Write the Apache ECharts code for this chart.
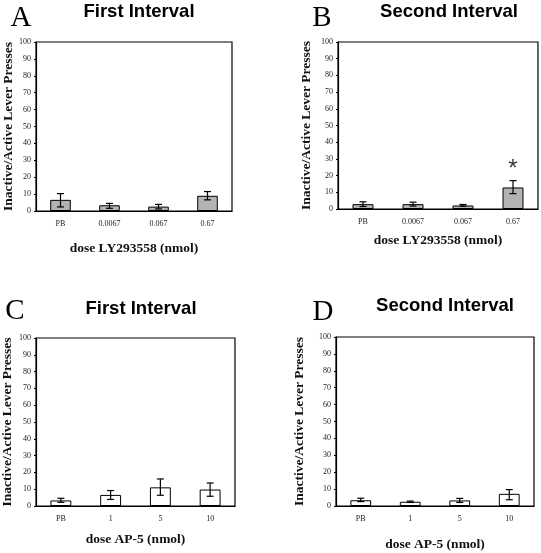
<!DOCTYPE html>
<html><head><meta charset="utf-8">
<script src="https://cdn.jsdelivr.net/npm/echarts@6/dist/echarts.min.js"></script>
<style>html,body{margin:0;padding:0;background:#fff}#c{width:541px;height:553px}</style>
</head><body><div id="c"></div>
<script>
// ---- data ----
var catsLY = ['PB', '0.0067', '0.067', '0.67'];
var catsAP = ['PB', '1', '5', '10'];
var yTicks = [0, 10, 20, 30, 40, 50, 60, 70, 80, 90, 100];

var meanA = [6.6, 3.4, 2.6, 9.0];
var lowA  = [2.4, 1.6, 1.2, 6.6];
var highA = [10.3, 4.5, 3.9, 11.5];

var meanB = [2.9, 2.9, 2.1, 12.9];
var lowB  = [1.5, 1.8, 1.7, 9.2];
var highB = [4.3, 4.1, 2.7, 17.0];
var starB = [null, null, null, 24];

var meanC = [3.3, 6.6, 11.1, 9.8];
var lowC  = [2.2, 3.9, 6.4, 5.8];
var highC = [4.6, 9.2, 16.1, 13.7];

var meanD = [3.4, 2.5, 3.3, 7.2];
var lowD  = [2.6, 2.1, 2.1, 3.7];
var highD = [4.6, 2.9, 4.5, 9.7];

var titles = ['First Interval', 'Second Interval', 'First Interval', 'Second Interval'];
var letters = ['A', 'B', 'C', 'D'];
var yName = 'Inactive/Active Lever Presses';
var xNames = ['dose LY293558 (nmol)', 'dose LY293558 (nmol)', 'dose AP-5 (nmol)', 'dose AP-5 (nmol)'];

// ---- layout ----
var grids = [
  {left: 36, top: 42, width: 196, height: 169},
  {left: 338, top: 42, width: 200, height: 167},
  {left: 36, top: 338, width: 199, height: 168},
  {left: 336, top: 337, width: 198, height: 172}
];
var yGaps = [20, 24, 21, 29];
var xGaps = [31, 25, 27, 32];
var titlePos = [[139, 12], [449, 12], [141, 309], [445, 306]];
var letterPos = [[21, 18], [322, 18], [15, 311], [323, 312]];
var panels = [
  {cats: catsLY, mean: meanA, low: lowA, high: highA, fill: '#b3b3b3'},
  {cats: catsLY, mean: meanB, low: lowB, high: highB, fill: '#b3b3b3'},
  {cats: catsAP, mean: meanC, low: lowC, high: highC, fill: '#ffffff'},
  {cats: catsAP, mean: meanD, low: lowD, high: highD, fill: '#ffffff'}
];

var serif = '"Liberation Serif", "DejaVu Serif", serif';
var sans = '"Liberation Sans", Arial, sans-serif';

var option = {
  animation: false,
  backgroundColor: '#fff',
  grid: grids.map(function (g) {
    return {left: g.left, top: g.top, width: g.width, height: g.height, show: true,
      borderColor: '#000', borderWidth: 1.2, backgroundColor: 'transparent', containLabel: false};
  }),
  xAxis: panels.map(function (p, i) {
    return {type: 'category', gridIndex: i, data: p.cats,
      name: xNames[i], nameLocation: 'middle', nameGap: xGaps[i],
      nameTextStyle: {fontFamily: serif, fontWeight: 'bold', fontSize: 13.5, color: '#111'},
      axisLine: {lineStyle: {color: '#000', width: 1.2}},
      axisTick: {show: false},
      axisLabel: {fontFamily: serif, fontSize: 8, color: '#222', margin: 9}};
  }),
  yAxis: panels.map(function (p, i) {
    return {type: 'value', gridIndex: i, min: yTicks[0], max: yTicks[yTicks.length - 1], interval: yTicks[1] - yTicks[0],
      name: yName, nameLocation: 'middle', nameGap: yGaps[i],
      nameTextStyle: {fontFamily: serif, fontWeight: 'bold', fontSize: 13.5, color: '#111'},
      splitLine: {show: false},
      axisLine: {show: true, lineStyle: {color: '#000', width: 1.2}},
      axisTick: {show: true, length: 2, lineStyle: {color: '#000'}},
      axisLabel: {fontFamily: serif, fontSize: 8, color: '#222', margin: 5}};
  }),
  graphic: [],
  series: []
};

panels.forEach(function (p, i) {
  option.series.push({type: 'bar', xAxisIndex: i, yAxisIndex: i, data: p.mean,
    barWidth: '42%', itemStyle: {color: p.fill, borderColor: '#000', borderWidth: 1}, z: 2});
  var errData = p.cats.map(function (c, k) { return [k, p.low[k], p.high[k]]; });
  option.series.push({type: 'custom', xAxisIndex: i, yAxisIndex: i, data: errData, z: 5,
    renderItem: function (params, api) {
      var x = api.value(0);
      var lo = api.coord([x, api.value(1)]);
      var hi = api.coord([x, api.value(2)]);
      var hw = 3.5;
      var st = {stroke: '#000', lineWidth: 1.2};
      return {type: 'group', children: [
        {type: 'line', shape: {x1: lo[0], y1: lo[1], x2: hi[0], y2: hi[1]}, style: st},
        {type: 'line', shape: {x1: lo[0] - hw, y1: lo[1], x2: lo[0] + hw, y2: lo[1]}, style: st},
        {type: 'line', shape: {x1: hi[0] - hw, y1: hi[1], x2: hi[0] + hw, y2: hi[1]}, style: st}
      ]};
    }});
  option.graphic.push({type: 'text', x: titlePos[i][0], y: titlePos[i][1],
    style: {text: titles[i], fontFamily: sans, fontWeight: 'bold', fontSize: 18.5, fill: '#000',
      align: 'center', verticalAlign: 'middle'}});
  option.graphic.push({type: 'text', x: letterPos[i][0], y: letterPos[i][1],
    style: {text: letters[i], fontFamily: serif, fontSize: 29, fill: '#000',
      align: 'center', verticalAlign: 'middle'}});
});

// significance star on panel B
option.series.push({type: 'scatter', xAxisIndex: 1, yAxisIndex: 1, data: starB, symbolSize: 0,
  label: {show: true, formatter: '*', position: 'inside', fontFamily: sans, fontSize: 24, color: '#000'}, z: 6});

var chart = echarts.init(document.getElementById('c'), null, {renderer: 'canvas'});
chart.setOption(option);
</script>
</body></html>
